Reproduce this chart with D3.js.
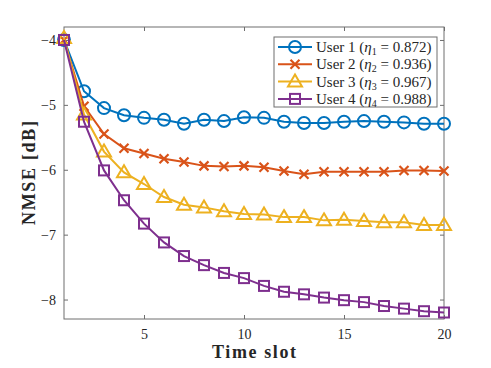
<!DOCTYPE html>
<html>
<head>
<meta charset="utf-8">
<script src="https://cdn.jsdelivr.net/npm/d3@7"></script>
<style>
  body { margin: 0; background: #fff; }
  svg text { font-family: "Liberation Serif", "DejaVu Serif", serif; fill: #262626; }
</style>
</head>
<body>
<div id="chart"></div>
<script>
// Time slots
const slots = d3.range(1, 21);

// NMSE values in dB
const user1 = [-4.0, -4.79, -5.05, -5.16, -5.20, -5.23, -5.29, -5.23, -5.25, -5.19,
               -5.20, -5.26, -5.28, -5.28, -5.26, -5.25, -5.26, -5.27, -5.29, -5.29];
const user2 = [-4.0, -5.02, -5.45, -5.67, -5.75, -5.83, -5.88, -5.94, -5.95, -5.94,
               -5.96, -6.02, -6.07, -6.03, -6.03, -6.03, -6.03, -6.01, -6.01, -6.02];
const user3 = [-3.97, -5.15, -5.72, -6.04, -6.22, -6.42, -6.54, -6.58, -6.64, -6.68,
               -6.69, -6.73, -6.73, -6.78, -6.77, -6.79, -6.81, -6.81, -6.85, -6.85];
const user4 = [-4.0, -5.26, -6.01, -6.47, -6.83, -7.12, -7.33, -7.47, -7.59, -7.67,
               -7.79, -7.88, -7.92, -7.97, -8.01, -8.04, -8.10, -8.14, -8.18, -8.20];

const userNames = ['User 1', 'User 2', 'User 3', 'User 4'];
const etas = ['0.872', '0.936', '0.967', '0.988'];
const xTicks = [5, 10, 15, 20];
const yTicks = [-4, -5, -6, -7, -8];

const series = [
    { values: user1, color: '#0072BD', marker: 'circle' },
    { values: user2, color: '#D95319', marker: 'cross' },
    { values: user3, color: '#EDB120', marker: 'triangle' },
    { values: user4, color: '#7E2F8E', marker: 'square' }
];

const width = 491, height = 368;
const margin = { top: 27, right: 47, bottom: 49, left: 64 };
const w = width - margin.left - margin.right;
const h = height - margin.top - margin.bottom;

const svg = d3.select('#chart').append('svg')
    .attr('width', width)
    .attr('height', height);

const g = svg.append('g')
    .attr('transform', `translate(${margin.left},${margin.top})`);

const x = d3.scaleLinear().domain([1, 20]).range([0, w]);
const y = d3.scaleLinear().domain([-8.3, -3.8]).range([h, 0]);

const axisColor = '#6e6e6e';

// Axes (box with inward ticks on all sides)
const styleAxis = sel => {
    sel.select('.domain').remove();
    sel.selectAll('.tick line').attr('stroke', axisColor);
    sel.selectAll('.tick text').style('font-size', '14px').attr('fill', '#262626');
};

g.append('g')
    .attr('transform', `translate(0,${h})`)
    .call(d3.axisBottom(x).tickValues(xTicks).tickSize(-4).tickPadding(10))
    .call(styleAxis);
g.append('g')
    .call(d3.axisTop(x).tickValues(xTicks).tickSize(-4).tickFormat(''))
    .call(styleAxis);
g.append('g')
    .call(d3.axisLeft(y).tickValues(yTicks).tickSize(-4).tickPadding(8).tickFormat(d3.format('d')))
    .call(styleAxis);
g.append('g')
    .attr('transform', `translate(${w},0)`)
    .call(d3.axisRight(y).tickValues(yTicks).tickSize(-4).tickFormat(''))
    .call(styleAxis);

g.append('rect')
    .attr('width', w).attr('height', h)
    .attr('fill', 'none')
    .attr('stroke', axisColor)
    .attr('stroke-width', 1);

// Marker drawing helper
function drawMarker(sel, type, color) {
    if (type === 'circle') {
        sel.append('circle').attr('r', 6)
            .attr('fill', 'none').attr('stroke', color).attr('stroke-width', 2);
    } else if (type === 'cross') {
        sel.append('path').attr('d', 'M-4.5,-4.5L4.5,4.5M-4.5,4.5L4.5,-4.5')
            .attr('stroke', color).attr('stroke-width', 2.2);
    } else if (type === 'triangle') {
        sel.append('path').attr('d', 'M0,-7L7,5L-7,5Z')
            .attr('fill', 'none').attr('stroke', color).attr('stroke-width', 2)
            .attr('stroke-linejoin', 'miter');
    } else if (type === 'square') {
        sel.append('rect').attr('x', -5).attr('y', -5).attr('width', 10).attr('height', 10)
            .attr('fill', 'none').attr('stroke', color).attr('stroke-width', 2);
    }
}

const line = d3.line()
    .x((d, i) => x(slots[i]))
    .y(d => y(d));

series.forEach(s => {
    g.append('path')
        .datum(s.values)
        .attr('d', line)
        .attr('fill', 'none')
        .attr('stroke', s.color)
        .attr('stroke-width', 2);

    g.selectAll(null)
        .data(s.values)
        .enter()
        .append('g')
        .attr('transform', (d, i) => `translate(${x(slots[i])},${y(d)})`)
        .each(function() { drawMarker(d3.select(this), s.marker, s.color); });
});

// Axis labels
svg.append('text')
    .attr('x', margin.left + w / 2)
    .attr('y', 358)
    .attr('text-anchor', 'middle')
    .attr('textLength', 84)
    .attr('lengthAdjust', 'spacing')
    .style('font-size', '18px')
    .style('font-weight', 'bold')
    .text('Time slot');

svg.append('text')
    .attr('transform', `translate(35,${margin.top + h / 2}) rotate(-90)`)
    .attr('text-anchor', 'middle')
    .attr('textLength', 104)
    .attr('lengthAdjust', 'spacing')
    .style('font-size', '18px')
    .style('font-weight', 'bold')
    .text('NMSE [dB]');

// Legend
const legend = svg.append('g').attr('transform', 'translate(274,37)');
legend.append('rect')
    .attr('width', 163).attr('height', 70)
    .attr('fill', '#fff')
    .attr('stroke', axisColor)
    .attr('stroke-width', 1);

series.forEach((s, i) => {
    const row = legend.append('g').attr('transform', `translate(0,${10 + i * 17.3})`);
    row.append('line')
        .attr('x1', 4).attr('x2', 38)
        .attr('stroke', s.color).attr('stroke-width', 2);
    drawMarker(row.append('g').attr('transform', 'translate(21,0)'), s.marker, s.color);
    const t = row.append('text')
        .attr('x', 42).attr('y', 5)
        .style('font-size', '15px');
    t.append('tspan').text(userNames[i] + ' (');
    t.append('tspan').style('font-style', 'italic').text('η');
    t.append('tspan').attr('dy', 3).style('font-size', '10px').text(i + 1);
    t.append('tspan').attr('dy', -3).text(' = ' + etas[i] + ')');
});
</script>
</body>
</html>
